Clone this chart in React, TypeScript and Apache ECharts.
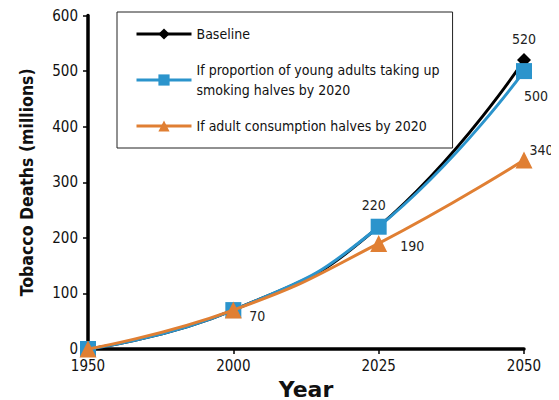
import React, { useEffect, useRef } from "react";
import * as echarts from "echarts";

const years = ["1950", "2000", "2025", "2050"];
const baseline = [0, 70, 220, 520];
const youngHalves = [0, 70, 220, 500];
const adultHalves = [0, 70, 190, 340];

const nameBaseline = "Baseline";
const nameYoung = "If proportion of young adults taking up smoking halves by 2020";
const nameAdult = "If adult consumption halves by 2020";

const FONT = "'DejaVu Sans Condensed', 'Liberation Sans Narrow', sans-serif";

export default function App() {
  const ref = useRef<HTMLDivElement>(null);
  useEffect(() => {
    if (!ref.current) return;
    const chart = echarts.init(ref.current, null, { renderer: "svg" });
    const lbl = (show: boolean, extra: any = {}) => ({
      show,
      color: "#222",
      fontSize: 14,
      fontFamily: FONT,
      formatter: "{c}",
      ...extra,
    });
    chart.setOption({
      animation: false,
      textStyle: { fontFamily: FONT },
      grid: { left: 80, right: 43, top: 7, bottom: 59 },
      legend: {
        orient: "vertical",
        left: 109,
        top: 4,
        padding: [12, 13, 12, 18],
        itemGap: 16,
        itemWidth: 55,
        itemHeight: 14,
        borderColor: "#222",
        borderWidth: 1,
        lineStyle: { width: 3 },
        textStyle: { fontSize: 14, fontFamily: FONT, color: "#111", lineHeight: 20 },
        formatter: (name: string) =>
          name === nameYoung
            ? "If proportion of young adults taking up\nsmoking halves by 2020"
            : name,
        data: [nameBaseline, nameYoung, nameAdult],
      },
      xAxis: {
        type: "category",
        data: years,
        boundaryGap: false,
        name: "Year",
        nameLocation: "middle",
        nameGap: 29,
        nameTextStyle: {
          fontSize: 22,
          fontWeight: "bold",
          color: "#111",
          fontFamily: "'DejaVu Sans', sans-serif",
        },
        axisLine: { lineStyle: { color: "#000", width: 3.5 } },
        axisTick: { alignWithLabel: true, length: 5, lineStyle: { color: "#000", width: 1.5 } },
        axisLabel: { fontSize: 15, color: "#111", fontFamily: FONT, margin: 9 },
        splitLine: { show: false },
      },
      yAxis: {
        type: "value",
        min: 0,
        max: 600,
        interval: 100,
        name: "Tobacco Deaths (millions)",
        nameLocation: "middle",
        nameGap: 52,
        nameTextStyle: {
          fontSize: 17.5,
          fontWeight: "bold",
          color: "#111",
          fontFamily: FONT,
        },
        axisLine: { show: true, lineStyle: { color: "#000", width: 3.5 } },
        axisTick: { show: true, length: 5, lineStyle: { color: "#000", width: 1.5 } },
        axisLabel: { fontSize: 15, color: "#111", fontFamily: FONT, margin: 10 },
        splitLine: { show: false },
      },
      series: [
        {
          name: nameBaseline,
          type: "line",
          smooth: true,
          z: 2,
          data: baseline.map((v, i) => ({
            value: v,
            label: lbl(i === 3, { position: "top", offset: [0, -2] }),
          })),
          symbol: "diamond",
          symbolSize: 14,
          color: "#000",
          lineStyle: { color: "#000", width: 3 },
          itemStyle: { color: "#000" },
        },
        {
          name: nameYoung,
          type: "line",
          smooth: true,
          z: 3,
          data: youngHalves.map((v, i) => ({
            value: v,
            label:
              i === 3
                ? lbl(true, { position: "bottom", offset: [12, 5] })
                : i === 2
                ? lbl(true, { position: "top", offset: [-5, -2] })
                : i === 1
                ? lbl(true, { position: "right", offset: [3, 6] })
                : lbl(false),
          })),
          symbol: "rect",
          symbolSize: 16,
          color: "#2b94cc",
          lineStyle: { color: "#2b94cc", width: 3 },
          itemStyle: { color: "#2b94cc" },
        },
        {
          name: nameAdult,
          type: "line",
          smooth: true,
          z: 4,
          data: adultHalves.map((v, i) => ({
            value: v,
            label:
              i === 3
                ? lbl(true, { position: "right", offset: [-8, -10] })
                : i === 2
                ? lbl(true, { position: "right", offset: [8, 3] })
                : lbl(false),
          })),
          symbol: "triangle",
          symbolSize: 17,
          color: "#e07f33",
          lineStyle: { color: "#e07f33", width: 3 },
          itemStyle: { color: "#e07f33" },
        },
      ],
    });
    return () => chart.dispose();
  }, []);
  return <div ref={ref} style={{ width: 559, height: 400 }} />;
}
